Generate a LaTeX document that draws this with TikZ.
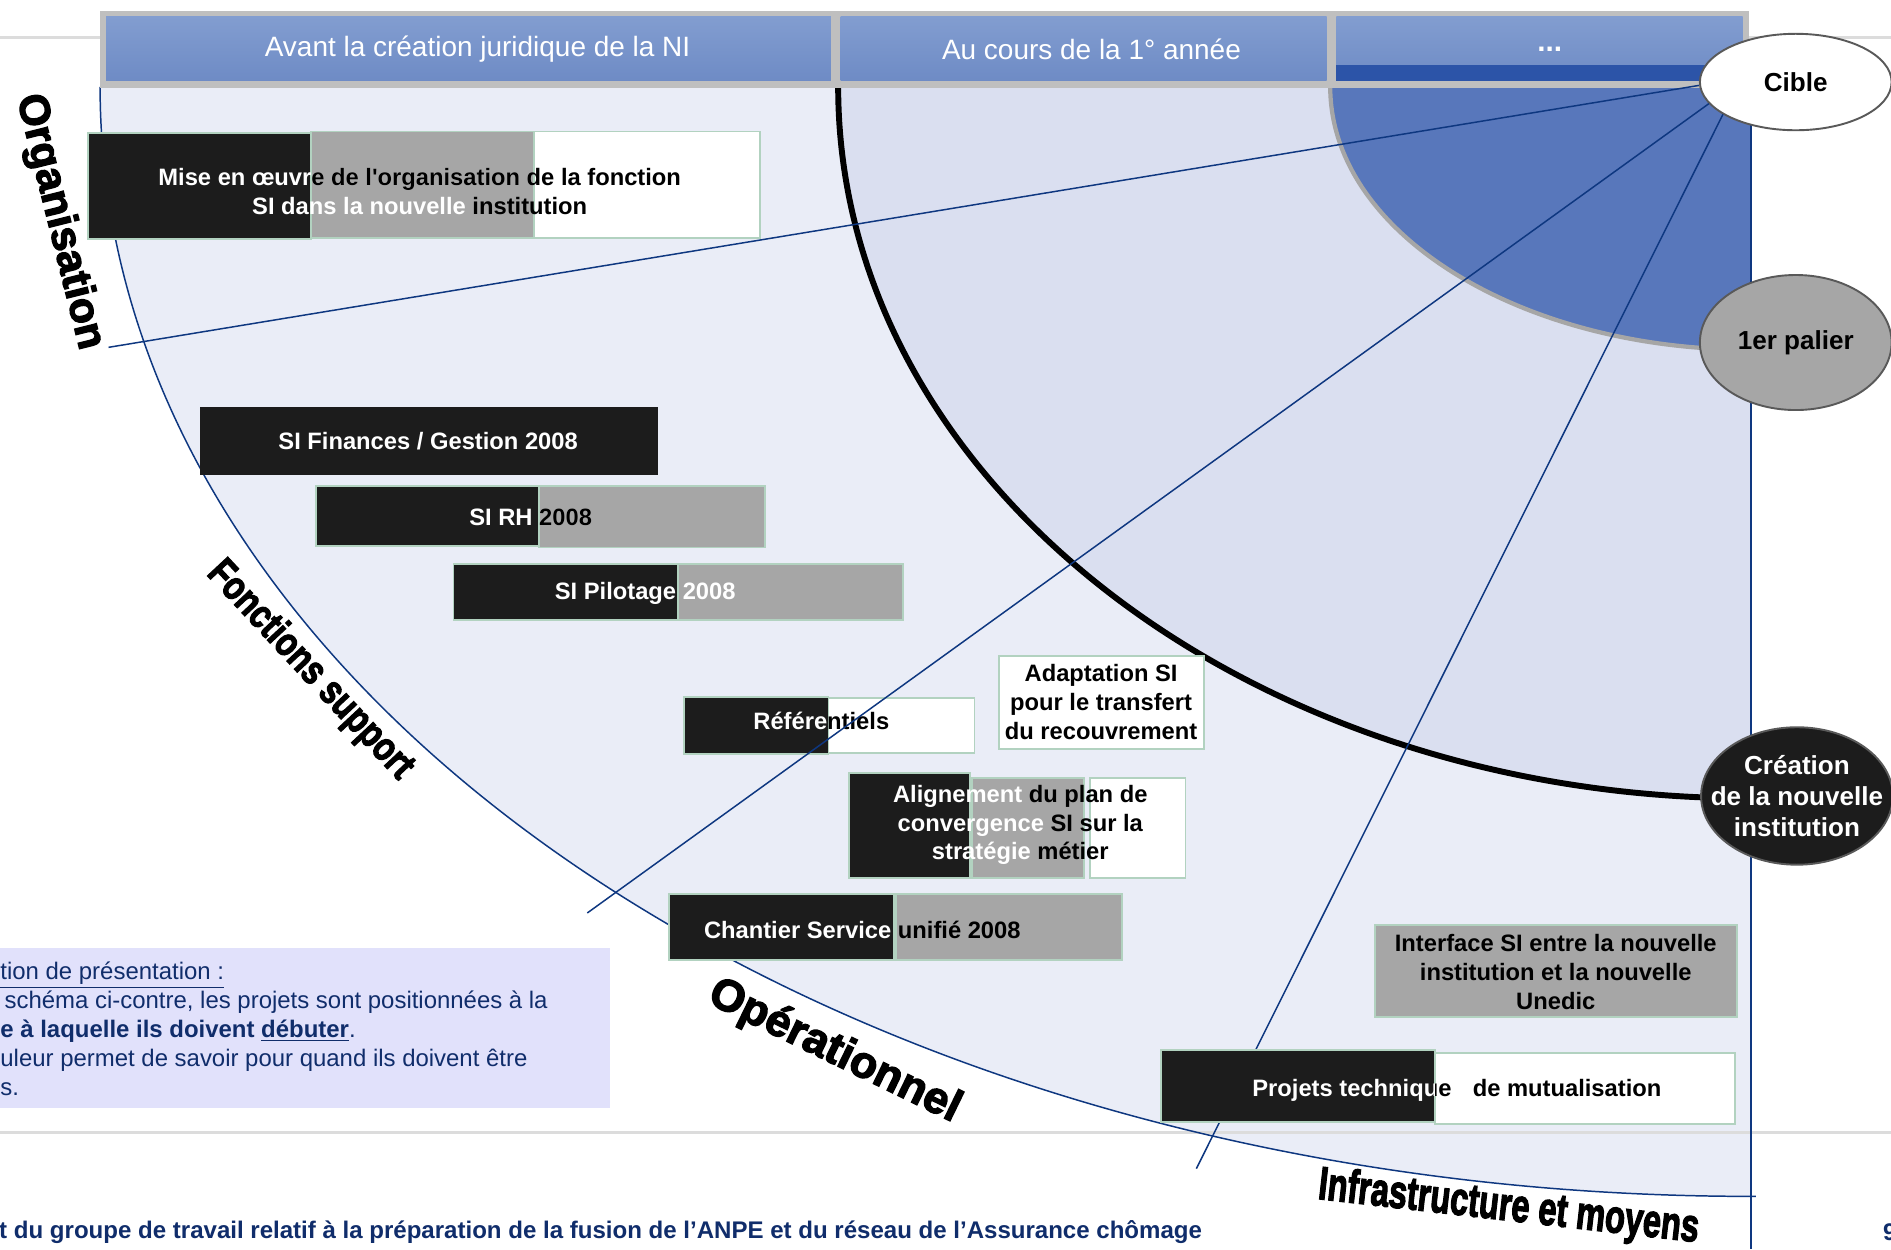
\documentclass[tikz,border=0pt]{standalone}
\usepackage{fontspec}
\setmainfont{Liberation Sans}
\newfontfamily\heavyfont[FakeBold=3]{Liberation Sans Bold}
\usepackage{graphicx}
\usetikzlibrary{shapes.geometric}
\definecolor{zoneclair}{RGB}{234,237,247}
\definecolor{zonemoyen}{RGB}{218,223,240}
\definecolor{zonebleu}{RGB}{88,119,187}
\definecolor{marine}{RGB}{14,55,128}
\definecolor{texte}{RGB}{16,45,107}
\definecolor{cadre}{RGB}{191,191,191}
\definecolor{enteteh}{RGB}{130,157,208}
\definecolor{enteteb}{RGB}{110,139,197}
\definecolor{barre}{RGB}{44,84,168}
\definecolor{noir}{RGB}{28,28,28}
\definecolor{gris}{RGB}{166,166,166}
\definecolor{menthe}{RGB}{178,210,192}
\definecolor{note}{RGB}{225,225,251}
\definecolor{filet}{RGB}{220,220,220}
\tikzset{
    cellule/.style={top color=enteteh, bottom color=enteteb},
    titre/.style={text=white, inner sep=0pt, font=\fontsize{13.2}{15}\selectfont},
    bloc/.style={draw=menthe, line width=0.9pt},
    tache/.style={inner sep=0pt, align=center, font=\bfseries\fontsize{11.2}{13.6}\selectfont},
    jalon/.style={ellipse, draw=black!65, line width=0.9pt, inner sep=0pt, minimum width=3.18cm, align=center, font=\bfseries\fontsize{12.3}{14.8}\selectfont},
    axe/.style={inner sep=0pt, font=\heavyfont},
    rayon/.style={draw=marine, line width=0.7pt},
    consigne/.style={inner sep=0pt, align=left, text=texte, font=\fontsize{11.3}{13.6}\selectfont},
  }

\begin{document}
\begin{tikzpicture}[x=0.02cm, y=-0.02cm]
	%unites = pixels de l'image, y vers le bas
	%arcs : centre commun (O), angles 180 -> 90
	\useasboundingbox (0,0) rectangle (1568,1036);
	\fill[white] (0,0) rectangle (1568,1036);
	\coordinate(O) at (1452,72);
	\coordinate(A) at (83,72);
	\coordinate(B) at (695,72);
	\coordinate(C) at (1103,72);
	\coordinate(Ofin) at (90,288);
	\coordinate(Fsfin) at (487,757);
	\coordinate(Imfin) at (992,969);

	\fill[zoneclair] (A) arc[start angle=180, end angle=90, x radius=1369, y radius=920] -- (O) -- cycle;
	\fill[zonemoyen] (B) arc[start angle=180, end angle=90, x radius=757, y radius=590] -- (O) -- cycle;
	\fill[zonebleu] (C) arc[start angle=180, end angle=90, x radius=349, y radius=218] -- (O) -- cycle;
	\draw[gris, line width=2pt] (C) arc[start angle=180, end angle=90, x radius=349, y radius=218];
	\draw[line width=2.8pt] (B) arc[start angle=180, end angle=90, x radius=757, y radius=590];
	\draw[filet, line width=1.3pt] (0,31) -- (1568,31) (0,939) -- (1568,939);
	\draw[marine, line width=0.7pt] (A) arc[start angle=180, end angle=90, x radius=1369, y radius=920] -- ++(4,0);
	\draw[marine, line width=0.8pt] (O) -- (1452,1036);

	%bandeau des phases
	\fill[cadre] (83,9) rectangle (1450,73);
	\foreach \xa/\xb in {88/689, 697/1100, 1108/1445}
		\shade[cellule] (\xa,14) rectangle (\xb,67);
	\fill[barre] (1108,54) rectangle (1445,67);
	\node[titre] (avant) at (396,41) {Avant la création juridique de la NI};
	\node[titre] (annee) at (905,41) {Au cours de la 1° année};
	\node[titre, font=\bfseries\fontsize{14}{15}\selectfont] (suite) at (1285,41) {...};

	%projets
	\filldraw[bloc, fill=noir] (73,110) rectangle (258,198);
	\filldraw[bloc, fill=gris] (258,109) rectangle (443,197);
	\filldraw[bloc, fill=white] (443,109) rectangle (630,197);
	\node[tache, text=white] (mise) at (348,159) {Mise en œuvre de l\textquotesingle organisation de la fonction\\SI dans la nouvelle \textcolor{black}{institution}};
	\begin{scope}
		\clip (258,130) rectangle (640,159);
		\node[tache] (mise-b) at (348,159) {Mise en œuvre de l\textquotesingle organisation de la fonction\\SI dans la nouvelle institution};
	\end{scope}

	\filldraw[fill=noir, draw=noir] (166,338) rectangle (545,393);
	\node[tache, text=white] (finances) at (355,366) {SI Finances / Gestion 2008};

	\filldraw[bloc, fill=noir] (262,403) rectangle (447,453);
	\filldraw[bloc, fill=gris] (447,403) rectangle (634,454);
	\node[tache, text=white] (rh) at (440,429) {SI RH 2008};
	\begin{scope}
		\clip (447,400) rectangle (640,458);
		\node[tache] (rh-b) at (440,429) {SI RH 2008};
	\end{scope}

	\filldraw[bloc, fill=noir] (376,468) rectangle (562,514);
	\filldraw[bloc, fill=gris] (562,468) rectangle (749,514);
	\node[tache, text=white] (pilotage) at (535,492) {SI Pilotage 2008};

	\filldraw[bloc, fill=noir] (567,578) rectangle (687,625);
	\filldraw[bloc, fill=white] (687,579) rectangle (808,624);
	\node[tache, text=white] (referentiels) at (681,598) {Référentiels};
	\begin{scope}
		\clip (687,570) rectangle (815,630);
		\node[tache] (referentiels-b) at (681,598) {Référentiels};
	\end{scope}

	\filldraw[bloc, fill=white] (828,544) rectangle (998,621);
	\node[tache] (adaptation) at (913,582) {Adaptation SI\\pour le transfert\\du recouvrement};

	\filldraw[bloc, fill=noir] (704,641) rectangle (804,728);
	\filldraw[bloc, fill=gris] (806,645) rectangle (899,728);
	\filldraw[bloc, fill=white] (904,645) rectangle (983,728);
	\node[tache] (alignement) at (846,684) {\textcolor{white}{Alignement} du plan de\\\textcolor{white}{convergence} SI sur la\\\textcolor{white}{stratégie} métier};

	\filldraw[bloc, fill=noir] (555,741) rectangle (741,796);
	\filldraw[bloc, fill=gris] (743,741) rectangle (930,796);
	\node[tache, text=white] (chantier) at (715,771) {Chantier Service \textcolor{black}{unifié 2008}};

	\filldraw[bloc, fill=gris] (1140,767) rectangle (1440,843);
	\node[tache] (interface) at (1290,806) {Interface SI entre la nouvelle\\institution et la nouvelle\\Unedic};

	%jalons et rayons
	\node[jalon, fill=white, minimum height=1.6cm] (cible) at (1489,68) {Cible};
	\draw[rayon] (cible.182) -- (Ofin);
	\draw[rayon] (cible.194) -- (Fsfin);
	\draw[rayon] (cible.204) -- (Imfin);
	\node[jalon, fill=gris, minimum height=2.24cm] (palier) at (1489,284) {1er palier};
	\node[jalon, fill=noir, text=white, inner xsep=-9pt, minimum height=2.28cm] (creation) at (1490,660) {Création\\de la nouvelle\\institution};

	\filldraw[bloc, fill=noir] (963,871) rectangle (1190,930);
	\filldraw[bloc, fill=white] (1190,873) rectangle (1439,932);
	\node[tache, text=white] (mutualisation) at (1208,904) {Projets technique\hspace{0.9em}de mutualisation};
	\begin{scope}
		\clip (1190,865) rectangle (1445,940);
		\node[tache] (mutualisation-b) at (1208,904) {Projets technique\hspace{0.9em}de mutualisation};
	\end{scope}

	%axes
	\node[axe, rotate=-76] (organisation) at (49,184) {\fontsize{20}{20}\selectfont Organisation};
	\node[axe, rotate=-47] (fonctions) at (257,556) {\scalebox{0.8}[1]{\fontsize{19}{19}\selectfont Fonctions support}};
	\node[axe, rotate=-26] (operationnel) at (692,872) {\fontsize{21}{21}\selectfont Opérationnel};
	\node[axe, rotate=-6.5] (infra) at (1251,1002) {\scalebox{0.7}[1]{\fontsize{22}{22}\selectfont Infrastructure et moyens}};

	%note et pied de page
	\fill[note] (-2,786) rectangle (506,919);
	\node[consigne, anchor=west] (lecture) at (0,853) {\underline{tion de présentation :}\\
		\hspace*{2pt}schéma ci-contre, les projets sont positionnées à la\\
		\textbf{e à laquelle ils doivent \underline{débuter}}.\\
		uleur permet de savoir pour quand ils doivent être\\
		s.};
	\node[inner sep=0pt, anchor=west, text=texte, font=\bfseries\fontsize{11.35}{13}\selectfont] (pied) at (-1,1022) {t du groupe de travail relatif à la préparation de la fusion de l’ANPE et du réseau de l’Assurance chômage};
	\node[inner sep=0pt, anchor=west, text=texte, font=\bfseries\fontsize{11.35}{13}\selectfont] (page) at (1561,1022) {9};
\end{tikzpicture}
\end{document}
